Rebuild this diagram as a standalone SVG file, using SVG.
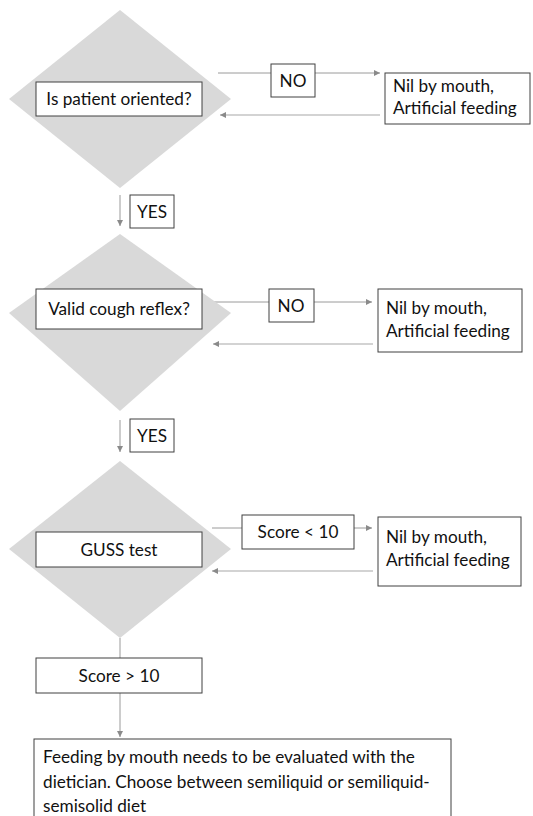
<svg xmlns="http://www.w3.org/2000/svg" width="533" height="816" viewBox="0 0 533 816">
<defs>
<style>
.dia{fill:#d9d9d9;stroke:none}
.box{fill:#fff;stroke:#404040;stroke-width:1}
.t{font-family:Lato,"Liberation Sans",sans-serif;font-size:17.2px;fill:#111}
.c{text-anchor:middle}
.ln{stroke:#9a9a9a;stroke-width:1;fill:none}
.rl{stroke:#c4c4c4;stroke-width:1.5;fill:none}
</style>
<marker id="ah" viewBox="0 0 10 10" refX="10" refY="5" markerWidth="7" markerHeight="6" markerUnits="userSpaceOnUse" orient="auto"><path d="M0,0L10,5L0,10z" fill="#8a8a8a"/></marker>
</defs>
<rect width="533" height="816" fill="#fff"/>
<g id="connectors">
<line class="ln" x1="218" y1="73" x2="271" y2="73"/>
<line class="ln" x1="315" y1="73" x2="380" y2="73" marker-end="url(#ah)"/>
<line class="rl" x1="380" y1="115" x2="220" y2="115" marker-end="url(#ah)"/>
<line class="ln" x1="120" y1="195" x2="120" y2="226" marker-end="url(#ah)"/>
<line class="ln" x1="212" y1="302" x2="269" y2="302"/>
<line class="ln" x1="314" y1="302" x2="372" y2="302" marker-end="url(#ah)"/>
<line class="rl" x1="373" y1="344" x2="213" y2="344" marker-end="url(#ah)"/>
<line class="ln" x1="120" y1="420" x2="120" y2="452" marker-end="url(#ah)"/>
<line class="ln" x1="212" y1="528" x2="242" y2="528"/>
<line class="ln" x1="354" y1="528" x2="372" y2="528" marker-end="url(#ah)"/>
<line class="rl" x1="373" y1="571" x2="212" y2="571" marker-end="url(#ah)"/>
<line class="ln" x1="120" y1="638" x2="120" y2="658"/>
<line class="ln" x1="120" y1="693" x2="120" y2="737" marker-end="url(#ah)"/>
</g>
<g id="d1">
<polygon class="dia" points="120,10 231,99 120,188 9,99"/>
<rect class="box" x="36" y="82" width="166" height="34"/>
<text class="t c" x="119" y="105">Is patient oriented?</text>
</g>
<g id="no1"><rect class="box" x="271" y="64" width="44" height="33"/><text class="t c" x="293" y="87">NO</text></g>
<g id="r1"><rect class="box" x="385" y="73" width="145" height="51"/><text class="t" x="393" y="92">Nil by mouth,</text><text class="t" x="393" y="114">Artificial feeding</text></g>
<g id="yes1"><rect class="box" x="130" y="195" width="44" height="33"/><text class="t c" x="152" y="218">YES</text></g>
<g id="d2">
<polygon class="dia" points="120,234 231,313 120,411 9,313"/>
<rect class="box" x="36" y="289" width="166" height="40"/>
<text class="t c" x="119" y="315">Valid cough reflex?</text>
</g>
<g id="no2"><rect class="box" x="269" y="289" width="45" height="33"/><text class="t c" x="291" y="312">NO</text></g>
<g id="r2"><rect class="box" x="378" y="289" width="144" height="63"/><text class="t" x="386" y="314">Nil by mouth,</text><text class="t" x="386" y="337">Artificial feeding</text></g>
<g id="yes2"><rect class="box" x="130" y="419" width="44" height="33"/><text class="t c" x="152" y="442">YES</text></g>
<g id="d3">
<polygon class="dia" points="120,461 231,549 120,638 9,549"/>
<rect class="box" x="36" y="532" width="166" height="35"/>
<text class="t c" x="119" y="556">GUSS test</text>
</g>
<g id="s1"><rect class="box" x="242" y="515" width="112" height="34"/><text class="t c" x="298" y="538">Score &lt; 10</text></g>
<g id="r3"><rect class="box" x="378" y="517" width="143" height="69"/><text class="t" x="386" y="543">Nil by mouth,</text><text class="t" x="386" y="566">Artificial feeding</text></g>
<g id="s2"><rect class="box" x="36" y="658" width="166" height="35"/><text class="t c" x="119" y="682">Score &gt; 10</text></g>
<g id="final">
<rect class="box" x="34" y="739" width="417" height="90"/>
<text class="t" x="43" y="763">Feeding by mouth needs to be evaluated with the</text>
<text class="t" x="43" y="788">dietician. Choose between semiliquid or semiliquid-</text>
<text class="t" x="43" y="812">semisolid diet</text>
</g>
</svg>
